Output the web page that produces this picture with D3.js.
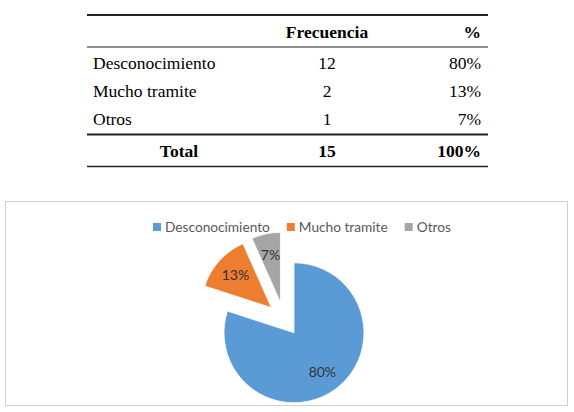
<!DOCTYPE html>
<html>
<head>
<meta charset="utf-8">
<script src="https://cdn.jsdelivr.net/npm/d3@7"></script>
<style>
  body { margin: 0; background: #fff; }
  svg { display: block; }
</style>
</head>
<body>
<div id="chart"></div>
<script>
// data
const categories = ["Desconocimiento", "Mucho tramite", "Otros"];
const frecuencias = [12, 2, 1];
const porcentajes = ["80%", "13%", "7%"];
const headers = ["", "Frecuencia", "%"];
const totalRow = ["Total", "15", "100%"];
const colors = ["#5B9BD5", "#ED7D31", "#A5A5A5"];

const width = 574, height = 412;

const svg = d3.select("#chart")
  .append("svg")
  .attr("width", width)
  .attr("height", height);

// ---- table ----
const table = svg.append("g")
  .attr("font-family", "'Liberation Serif', 'Times New Roman', serif")
  .attr("font-size", 17.5)
  .attr("fill", "#000");

const tableLeft = 87, tableRight = 488;
const colLabel = 93, colFreq = 327, colPct = 481;

const rowY = d3.scaleBand()
  .domain(categories)
  .range([49, 133]);

// horizontal rules
const rules = [
  { y: 15, w: 1.8 },
  { y: 47, w: 1 },
  { y: 134.5, w: 1.8 },
  { y: 166.5, w: 1.6 }
];
table.selectAll("line.rule")
  .data(rules)
  .enter().append("line")
  .attr("class", "rule")
  .attr("x1", tableLeft)
  .attr("x2", tableRight)
  .attr("y1", d => d.y)
  .attr("y2", d => d.y)
  .attr("stroke", "#222")
  .attr("stroke-width", d => d.w);

// header
table.append("text")
  .attr("x", colFreq).attr("y", 32).attr("dy", "0.35em")
  .attr("text-anchor", "middle").attr("font-weight", "bold")
  .text(headers[1]);
table.append("text")
  .attr("x", colPct).attr("y", 32).attr("dy", "0.35em")
  .attr("text-anchor", "end").attr("font-weight", "bold")
  .text(headers[2]);

// body rows
const rows = table.selectAll("g.row")
  .data(categories)
  .enter().append("g")
  .attr("class", "row")
  .attr("transform", d => `translate(0,${rowY(d) + rowY.bandwidth() / 2})`);

rows.append("text")
  .attr("x", colLabel).attr("dy", "0.35em")
  .text(d => d);
rows.append("text")
  .attr("x", colFreq).attr("dy", "0.35em")
  .attr("text-anchor", "middle")
  .text((d, i) => frecuencias[i]);
rows.append("text")
  .attr("x", colPct).attr("dy", "0.35em")
  .attr("text-anchor", "end")
  .text((d, i) => porcentajes[i]);

// total row
const totalG = table.append("g")
  .attr("transform", "translate(0,151)")
  .attr("font-weight", "bold");
totalG.append("text").attr("x", 179).attr("dy", "0.35em")
  .attr("text-anchor", "middle").text(totalRow[0]);
totalG.append("text").attr("x", colFreq).attr("dy", "0.35em")
  .attr("text-anchor", "middle").text(totalRow[1]);
totalG.append("text").attr("x", colPct).attr("dy", "0.35em")
  .attr("text-anchor", "end").text(totalRow[2]);

// ---- chart box ----
svg.append("rect")
  .attr("x", 5.5).attr("y", 201.5)
  .attr("width", 562).attr("height", 204)
  .attr("fill", "#fff")
  .attr("stroke", "#d0d0d0")
  .attr("stroke-width", 1);

// legend
const legend = svg.append("g")
  .attr("font-family", "Lato, 'Open Sans', sans-serif")
  .attr("font-size", 13.7)
  .attr("fill", "#595959");

let lx = 153;
categories.forEach((c, i) => {
  legend.append("rect")
    .attr("x", lx).attr("y", 223)
    .attr("width", 8).attr("height", 8)
    .attr("fill", colors[i]);
  const t = legend.append("text")
    .attr("x", lx + 12).attr("y", 227).attr("dy", "0.35em")
    .text(c);
  lx += 12 + t.node().getComputedTextLength() + 17;
});

// exploded pie
const cx = 284, cy = 319, radius = 70, explode = 17;

const pie = d3.pie().sort(null).value(d => d);
const arc = d3.arc().innerRadius(0).outerRadius(radius);
const arcs = pie(frecuencias);

const pieG = svg.append("g")
  .attr("transform", `translate(${cx},${cy})`);

const slices = pieG.selectAll("g.slice")
  .data(arcs)
  .enter().append("g")
  .attr("class", "slice")
  .attr("transform", d => {
    const a = (d.startAngle + d.endAngle) / 2;
    return `translate(${explode * Math.sin(a)},${-explode * Math.cos(a)})`;
  });

slices.append("path")
  .attr("d", arc)
  .attr("fill", (d, i) => colors[i])
  .attr("stroke", "#fff")
  .attr("stroke-width", 0.8);

slices.append("text")
  .attr("x", d => 0.69 * radius * Math.sin((d.startAngle + d.endAngle) / 2))
  .attr("y", d => -0.69 * radius * Math.cos((d.startAngle + d.endAngle) / 2))
  .attr("dy", "0.35em")
  .attr("text-anchor", "middle")
  .attr("font-family", "Lato, 'Open Sans', sans-serif")
  .attr("font-size", 14)
  .attr("fill", "#333")
  .text((d, i) => porcentajes[i]);
</script>
</body>
</html>
